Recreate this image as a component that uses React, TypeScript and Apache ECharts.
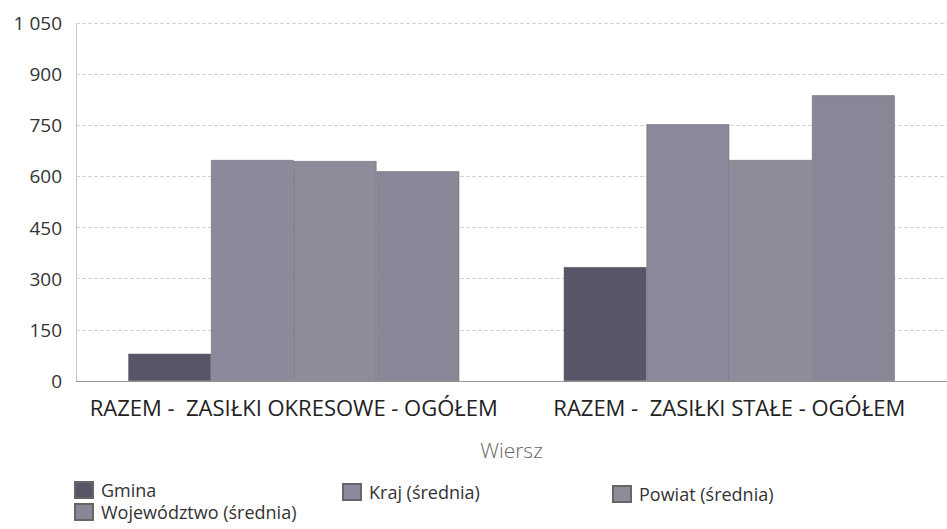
import React, { useEffect, useRef } from "react";
import * as echarts from "echarts";

const categories = ["RAZEM -  ZASIŁKI OKRESOWE - OGÓŁEM", "RAZEM -  ZASIŁKI STAŁE - OGÓŁEM"];
const seriesNames = ["Gmina", "Kraj (średnia)", "Powiat (średnia)", "Województwo (średnia)"];
const gmina = [80, 334];
const kraj = [648, 753];
const powiat = [645, 648];
const wojewodztwo = [615, 838];
const colors = ["#575669", "#8b899b", "#8d8c9b", "#898797"];

export default function App() {
  const ref = useRef<HTMLDivElement>(null);
  useEffect(() => {
    const chart = echarts.init(ref.current!, null, { renderer: "svg" });
    const font = "Open Sans, Noto Sans, sans-serif";
    const values = [gmina, kraj, powiat, wojewodztwo];
    const legendPos = [
      { left: 74, top: 481 },
      { left: 342, top: 483 },
      { left: 612, top: 485 },
      { left: 74, top: 503 },
    ];
    chart.setOption({
      animation: false,
      textStyle: { fontFamily: font },
      grid: { left: 76, right: 0, top: 23, bottom: 148, containLabel: false },
      legend: seriesNames.map((n, i) => ({
        data: [n],
        left: legendPos[i].left,
        top: legendPos[i].top,
        padding: 0,
        orient: "horizontal",
        itemWidth: 18,
        itemHeight: 16,
        itemGap: 6,
        icon: "rect",
        textStyle: { fontSize: 18, lineHeight: 18, color: "#333", fontFamily: font, padding: [0, 0, 0, 3] },
        selectedMode: false,
      })),
      xAxis: {
        type: "category",
        data: categories,
        name: "Wiersz",
        nameLocation: "middle",
        nameGap: 58,
        nameTextStyle: { fontSize: 21, lineHeight: 22, color: "#666", fontFamily: font, fontWeight: 300 },
        axisLine: { show: true, lineStyle: { color: "#999" } },
        axisTick: { show: false },
        axisLabel: { fontSize: 22, lineHeight: 24, color: "#222", margin: 14, fontFamily: font, interval: 0 },
      },
      yAxis: {
        type: "value",
        min: 0,
        max: 1050,
        interval: 150,
        axisLine: { show: true, lineStyle: { color: "#bbb", type: "dotted" } },
        axisTick: { show: false },
        splitLine: { show: true, lineStyle: { color: "#d4d4d4", type: "dashed" } },
        axisLabel: {
          fontSize: 19,
          color: "#333",
          margin: 14,
          fontFamily: font,
          formatter: (v: number) => String(v).replace(/\B(?=(\d{3})+(?!\d))/g, " "),
        },
      },
      series: seriesNames.map((n, i) => ({
        name: n,
        type: "bar",
        data: values[i],
        barGap: "0%",
        barCategoryGap: "24%",
        itemStyle: { color: colors[i], borderColor: "#666", borderWidth: 0.5 },
      })),
    });
    return () => chart.dispose();
  }, []);
  return (
    <div
      ref={ref}
      style={{ position: "absolute", left: 0, top: 0, width: 947, height: 529, background: "#fff" }}
    />
  );
}
